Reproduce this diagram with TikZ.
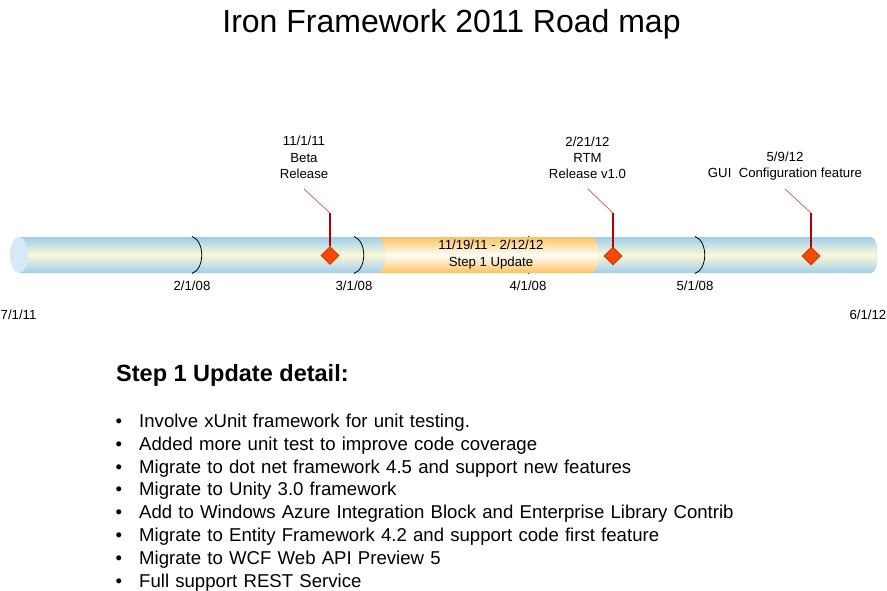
\documentclass[tikz,border=0pt]{standalone}
\usepackage{fontspec}
\setmainfont{Liberation Sans}
\usetikzlibrary{positioning, shapes.geometric}

\definecolor{barblue}{RGB}{158,206,238}
\definecolor{barcream}{RGB}{252,248,214}
\definecolor{capblue}{RGB}{214,233,246}
\definecolor{steporange}{RGB}{252,194,98}
\definecolor{stepwhite}{RGB}{255,253,248}
\definecolor{msfill}{RGB}{248,72,0}
\definecolor{msdraw}{RGB}{205,45,10}
\definecolor{leaddark}{RGB}{176,0,0}
\definecolor{leadlight}{RGB}{215,80,80}

\newcommand{\itembullet}{\makebox[23.5pt][l]{•}}

\begin{document}
\begin{tikzpicture}[
    x=1pt, y=-1pt,
    node distance=4.9pt,
    title/.style={font=\fontsize{32}{38}\selectfont, inner sep=0pt, anchor=base},
    mslabel/.style={font=\fontsize{13.2}{16.3}\selectfont, align=center,
                    inner sep=0pt, anchor=base},
    datelbl/.style={font=\fontsize{13.2}{16}\selectfont, inner sep=0pt, anchor=base},
    milestone/.style={diamond, aspect=1, minimum width=18pt, minimum height=18pt,
                      inner sep=0pt, fill=msfill, draw=msdraw, line width=0.6pt},
    tickarc/.style={black, line width=0.8pt},
    lead/.style={leaddark, line width=1.2pt},
    leadthin/.style={leadlight, line width=0.7pt},
    heading/.style={font=\fontsize{23.5}{28}\selectfont\bfseries,
                    inner sep=0pt, anchor=base west},
    item/.style={font=\fontsize{18.6}{22}\selectfont, inner sep=0pt,
                 text height=13.5pt, text depth=4pt, text width=740pt, align=left},
]
\useasboundingbox (0,0) rectangle (887,591);

% time bar
\shade[top color=barblue, bottom color=barblue, middle color=barcream]
    (19,237) -- (871,237) .. controls (880,237) and (880,273) .. (871,273)
    -- (19,273) -- cycle;
\fill[capblue] (19,255) ellipse [x radius=9, y radius=18];

% month ticks
\foreach \x/\d [count=\i] in {192/{2/1/08}, 354/{3/1/08}, 528/{4/1/08}, 695/{5/1/08}} {
    \coordinate (tk\i) at (\x,236.5);
    \coordinate (tb\i) at (\x,273.5);
    \draw[tickarc] (tk\i) .. controls (\x+13,241) and (\x+13,269) .. (tb\i);
    \node[datelbl] (dl\i) at (\x,290) {\d};
}

% step 1 span
\shade[top color=steporange, bottom color=steporange, middle color=stepwhite]
    (377,237) .. controls (388,237) and (388,273) .. (377,273)
    -- (591,273) .. controls (601,273) and (601,237) .. (591,237) -- cycle;
\node[mslabel] (stepL) at (491,266) {11/19/11 - 2/12/12\\Step 1 Update};

\node[datelbl, anchor=base west] (startL) at (0.5,319) {7/1/11};
\node[datelbl, anchor=base east] (endL)   at (886.5,319) {6/1/12};

% milestones
\node[milestone] (betaD) at (330,255.5) {};
\node[milestone] (rtmD)  at (613,256) {};
\node[milestone] (guiD)  at (811,256) {};

\coordinate (betaB) at (330,213);   \coordinate (betaE) at (304,189);
\coordinate (rtmB)  at (613,213);   \coordinate (rtmE)  at (588,189);
\coordinate (guiB)  at (811,213);   \coordinate (guiE)  at (785,189);

\foreach \m in {beta, rtm, gui} {
    \draw[lead] (\m D.north) -- (\m B);
    \draw[leadthin] (\m B) -- (\m E);
}

\node[mslabel] (betaL) at (304,178.5) {11/1/11\\Beta\\Release};
\node[mslabel] (rtmL)  at (587.5,179) {2/21/12\\RTM\\Release v1.0};
\node[mslabel] (guiL)  at (785,178)   {5/9/12\\GUI\ \ Configuration feature};

\node[title] (title) at (451.5,33) {Iron Framework 2011 Road map};

% detail list
\node[heading] (detail) at (116,381) {Step 1 Update detail:};
\node[item, anchor=base west] (b1) at (115.5,427.5)
    {\itembullet Involve xUnit framework for unit testing.};
\node[item, below=of b1] (b2) {\itembullet Added more unit test to improve code coverage};
\node[item, below=of b2] (b3) {\itembullet Migrate to dot net framework 4.5 and support new features};
\node[item, below=of b3] (b4) {\itembullet Migrate to Unity 3.0 framework};
\node[item, below=of b4] (b5) {\itembullet Add to Windows Azure Integration Block and Enterprise Library Contrib};
\node[item, below=of b5] (b6) {\itembullet Migrate to Entity Framework 4.2 and support code first feature};
\node[item, below=of b6] (b7) {\itembullet Migrate to WCF Web API Preview 5};
\node[item, below=of b7] (b8) {\itembullet Full support REST Service};
\end{tikzpicture}
\end{document}
